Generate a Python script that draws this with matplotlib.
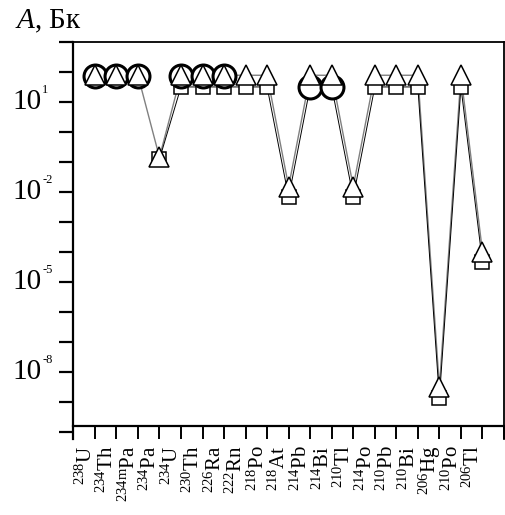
import numpy as np
import matplotlib
matplotlib.use("Agg")
import matplotlib.pyplot as plt
from matplotlib.transforms import ScaledTranslation

plt.rcParams['font.family'] = ['Liberation Serif', 'DejaVu Serif']
plt.rcParams['mathtext.fontset'] = 'custom'
plt.rcParams['mathtext.rm'] = 'Liberation Serif'
plt.rcParams['mathtext.it'] = 'Liberation Serif:italic'

nan = np.nan
nuclides = ["$^{238}$U", "$^{234}$Th", "$^{234\\mathrm{m}}$Pa", "$^{234}$Pa", "$^{234}$U",
            "$^{230}$Th", "$^{226}$Ra", "$^{222}$Rn", "$^{218}$Po", "$^{218}$At",
            "$^{214}$Pb", "$^{214}$Bi", "$^{210}$Tl", "$^{214}$Po", "$^{210}$Pb",
            "$^{210}$Bi", "$^{206}$Hg", "$^{210}$Po", "$^{206}$Tl"]

# activity, Bq
act_tri = [76, 76, 76, 0.14, 76, 76, 76, 76, 76, 0.0148,
           76, 76, 0.0148, 76, 76, 76, 3.1e-9, 76, 1.0e-4]
act_sq = [nan, nan, nan, 0.12, 31, 31, 31, 31, 31, 0.0065,
          31, 31, 0.0065, 31, 31, 31, 1.3e-9, 31, 4.4e-5]
act_circ = [74, 74, 74, nan, 74, 74, 74, nan, nan, nan,
            30, 30, nan, nan, nan, nan, nan, nan, nan]

ytick_vals = [1e1, 1e-2, 1e-5, 1e-8]
ytick_exp = ["1", "-2", "-5", "-8"]

x = np.arange(len(nuclides))

fig = plt.figure(figsize=(5.06, 5.15), dpi=100)
ax = fig.add_axes([73.3 / 506, 1 - 439 / 515, (504 - 73.3) / 506, (439 - 41.7) / 515])

# connecting lines
ax.plot(x, act_tri, color='0.5', lw=1.0, zorder=1)
ax.plot(x, act_sq, color='black', lw=0.7, zorder=1)

# markers
ax.plot(x, act_sq, ls='none', marker='s', ms=10.5, mfc='white', mec='black', mew=1.1, zorder=2)
ax.plot(x, act_circ, ls='none', marker='o', ms=16.5, mfc='white', mec='black', mew=2.2, zorder=3)
ax.plot(x, act_tri, ls='none', marker='^', ms=14.5, mfc='white', mec='black', mew=1.1, zorder=4)

ax.set_yscale('log')
ax.set_ylim(10 ** -10.25, 1e3)
ax.set_xlim(-1, 19)

ax.spines['bottom'].set_position(('data', 10 ** -9.8))
for s in ax.spines.values():
    s.set_linewidth(1.3)
ax.spines['left'].set_linewidth(1.6)
ax.spines['bottom'].set_linewidth(1.6)

ax.set_yticks([10.0 ** k for k in range(-10, 4)])
ax.set_yticklabels([])
ax.yaxis.set_minor_locator(matplotlib.ticker.NullLocator())
ax.tick_params(axis='y', direction='out', length=10, width=1.6)

ax.set_xticks(np.arange(-1, 20))
ax.set_xticklabels([""] + nuclides + [""], rotation=90, fontsize=15)
ax.tick_params(axis='x', direction='out', length=9.5, width=1.4, pad=5)
off = ScaledTranslation(-9 / 100, 0, fig.dpi_scale_trans)
for lab in ax.get_xticklabels():
    lab.set_transform(lab.get_transform() + off)

# y tick labels: 10 with small exponent
for v, e in zip(ytick_vals, ytick_exp):
    ax.annotate("10", xy=(0, v), xycoords=ax.get_yaxis_transform(),
                xytext=(-32, 0), textcoords='offset pixels',
                ha='right', va='center', fontsize=21)
    ax.annotate(e, xy=(0, v), xycoords=ax.get_yaxis_transform(),
                xytext=(-31, 9), textcoords='offset pixels',
                ha='left', va='baseline', fontsize=9)

fig.text(15 / 506, 1 - 28 / 515, "$A$, Бк", fontsize=21, va='baseline', ha='left')

fig.savefig("out.png", dpi=100)
